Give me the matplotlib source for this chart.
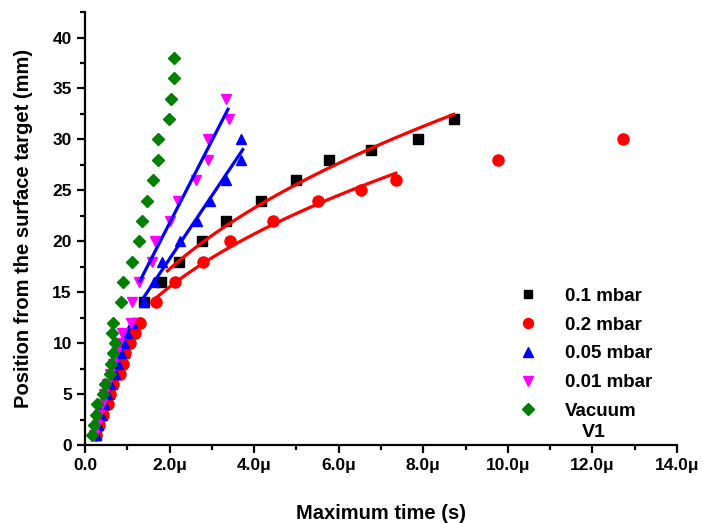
import numpy as np
import matplotlib
matplotlib.use("Agg")
import matplotlib.pyplot as plt
from matplotlib.ticker import MultipleLocator, FuncFormatter

plt.rcParams['font.family'] = ['Liberation Sans', 'DejaVu Sans']
plt.rcParams['font.weight'] = 'bold'

# times in microseconds, positions in mm
y_low = [1, 2, 3, 4, 5, 6, 7, 8, 9, 10, 11, 12]

t_01 = [0.26, 0.31, 0.40, 0.48, 0.56, 0.64, 0.76, 0.85, 0.92, 1.02, 1.12, 1.22,
        1.39, 1.80, 2.22, 2.77, 3.33, 4.16, 4.99, 5.77, 6.76, 7.87, 8.72]
y_01 = y_low + [14, 16, 18, 20, 22, 24, 26, 28, 29, 30, 32]

t_02 = [0.27, 0.33, 0.42, 0.54, 0.60, 0.66, 0.83, 0.90, 0.95, 1.06, 1.18, 1.30,
        1.68, 2.13, 2.79, 3.43, 4.44, 5.51, 6.52, 7.35, 9.76, 12.72]
y_02 = y_low + [14, 16, 18, 20, 22, 24, 25, 26, 28, 30]

t_005 = [0.25, 0.30, 0.38, 0.45, 0.52, 0.60, 0.70, 0.78, 0.85, 0.92, 1.00, 1.10,
         1.39, 1.63, 1.82, 2.25, 2.65, 2.95, 3.33, 3.69, 3.69]
y_005 = y_low + [14, 16, 18, 20, 22, 24, 26, 28, 30]

t_001 = [0.22, 0.28, 0.32, 0.40, 0.45, 0.52, 0.58, 0.65, 0.72, 0.80, 0.88, 1.08,
         1.11, 1.28, 1.58, 1.65, 2.01, 2.20, 2.62, 2.91, 2.91, 3.40, 3.33]
y_001 = y_low + [14, 16, 18, 20, 22, 24, 26, 28, 30, 32, 34]

t_vac = [0.17, 0.21, 0.26, 0.28, 0.43, 0.47, 0.59, 0.61, 0.66, 0.70, 0.64, 0.66,
         0.85, 0.90, 1.11, 1.28, 1.35, 1.47, 1.61, 1.73, 1.73, 1.99, 2.03, 2.10, 2.10]
y_vac = y_low + [14, 16, 18, 20, 22, 24, 26, 28, 30, 32, 34, 36, 38]

fig = plt.figure(figsize=(7.03, 5.23), dpi=100)
ax = fig.add_axes([0.121, 0.149, 0.842, 0.828])

ms = 7.5
ax.plot(t_01, y_01, 's', color='black', ms=7, label='0.1 mbar', zorder=3)
ax.plot(t_02, y_02, 'o', color='red', ms=8, label='0.2 mbar', zorder=3)
ax.plot(t_005, y_005, '^', color='blue', ms=ms, label='0.05 mbar', zorder=3)
ax.plot(t_001, y_001, 'v', color='magenta', ms=ms, label='0.01 mbar', zorder=3)
ax.plot(t_vac, y_vac, 'D', color='green', ms=6.5, label='Vacuum', zorder=3)

# fit curves drawn from the data points
t01 = np.array(t_01[13:])
y01 = np.array(y_01[13:])
c = np.polyfit(np.log(t01), np.log(y01), 1)
tt = np.linspace(1.95, t01.max(), 100)
ax.plot(tt, np.exp(np.polyval(c, np.log(tt))), color='red', lw=2.3, zorder=4)

t02 = np.array(t_02[12:20])
y02 = np.array(y_02[12:20])
c = np.polyfit(np.log(t02), np.log(y02), 1)
tt = np.linspace(t02.min(), t02.max(), 100)
ax.plot(tt, np.exp(np.polyval(c, np.log(tt))), color='red', lw=2.3, zorder=4)

t5 = np.array(t_005[12:])
y5 = np.array(y_005[12:])
c = np.polyfit(t5, y5, 1)
tt = np.linspace(1.35, 3.73, 50)
ax.plot(tt, np.polyval(c, tt), color='blue', lw=2.3, zorder=4)

t1 = np.array(t_001[12:])
y1 = np.array(y_001[12:])
c = np.polyfit(t1, y1, 1)
tt = np.linspace(1.30, 3.38, 50)
ax.plot(tt, np.polyval(c, tt), color='blue', lw=2.3, zorder=4)

ax.set_xlim(0, 14)
ax.set_ylim(0, 42.5)
ax.spines['top'].set_visible(False)
ax.spines['right'].set_visible(False)
for s in ['left', 'bottom']:
    ax.spines[s].set_linewidth(1.6)

ax.xaxis.set_major_locator(MultipleLocator(2))
ax.xaxis.set_minor_locator(MultipleLocator(1))
ax.yaxis.set_major_locator(MultipleLocator(5))
ax.yaxis.set_minor_locator(MultipleLocator(2.5))
ax.xaxis.set_major_formatter(FuncFormatter(lambda v, p: '0.0' if v == 0 else '%.1f\u03bc' % v))
ax.tick_params(which='major', direction='out', length=6, width=1.6, labelsize=12.5)
ax.tick_params(which='minor', direction='out', length=3.5, width=1.6)
for lab in ax.get_xticklabels() + ax.get_yticklabels():
    lab.set_fontweight('bold')

ax.set_xlabel('Maximum time (s)', fontsize=14.5, fontweight='bold', labelpad=22)
ax.set_ylabel('Position from the surface target (mm)', fontsize=14.5, fontweight='bold', labelpad=14)

leg = ax.legend(loc='upper left', bbox_to_anchor=(0.70, 0.385), frameon=False,
                fontsize=13.5, handletextpad=1.0, labelspacing=0.62, markerscale=0.9,
                borderpad=0)
for t in leg.get_texts():
    t.set_fontweight('bold')
ax.text(0.86, 0.03, 'V1', transform=ax.transAxes, fontsize=14, fontweight='bold',
        ha='center', va='center')

fig.savefig('out.png', dpi=100)
